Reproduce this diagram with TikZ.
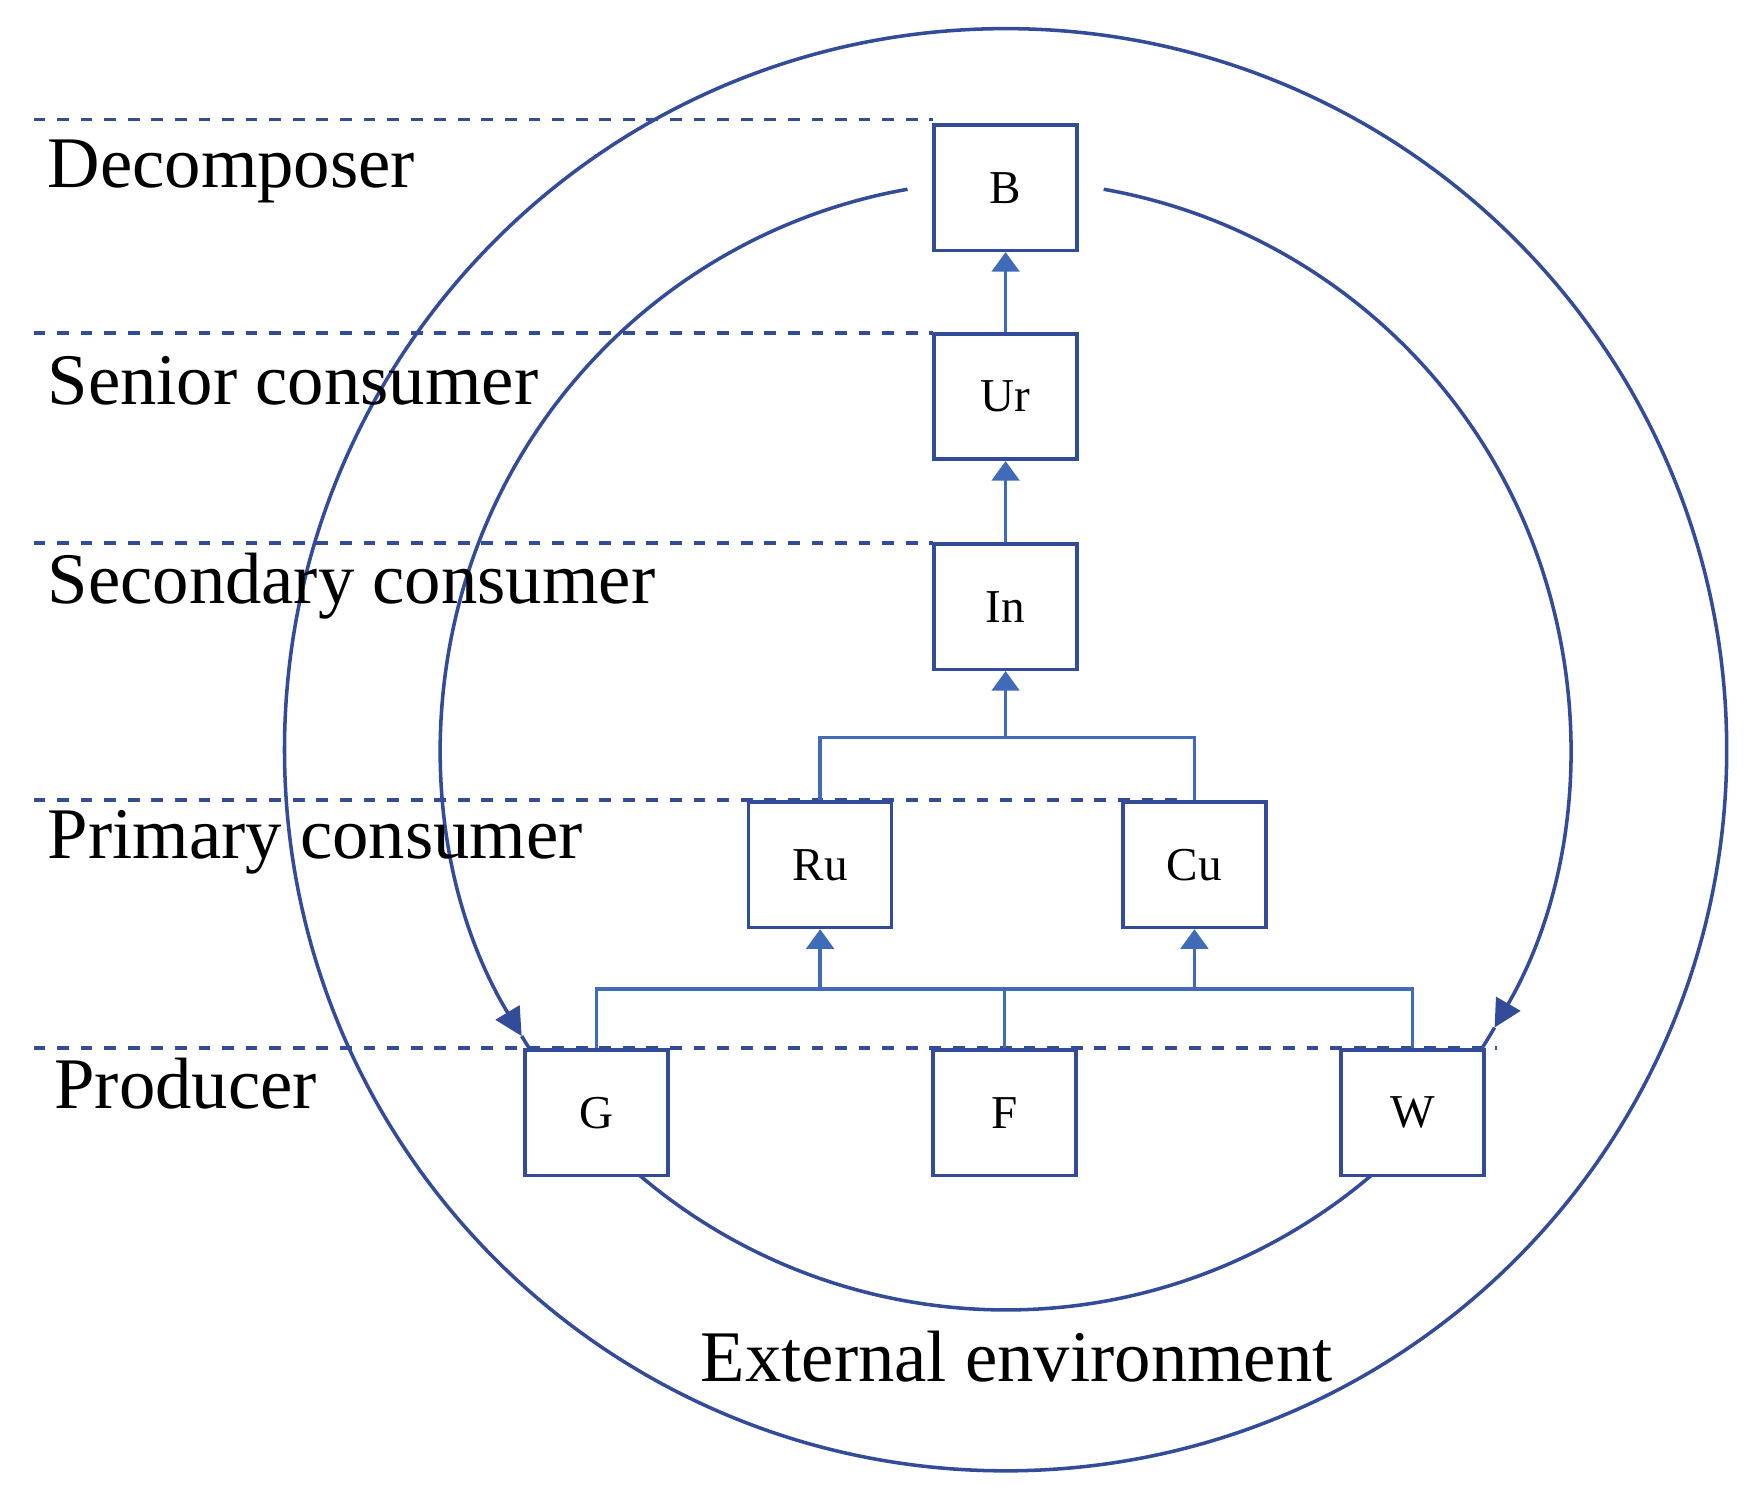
\documentclass[tikz,border=0pt]{standalone}
\usepackage{fontspec}
\setmainfont{Liberation Serif}
\usetikzlibrary{arrows.meta}
\definecolor{dialinecolor}{rgb}{0.20, 0.30, 0.60}
\definecolor{diaarrowcolor}{rgb}{0.25, 0.42, 0.72}
\tikzset{
  box/.style={draw=dialinecolor, fill=white, line width=0.9pt, minimum width=1.28cm, minimum height=1.12cm, inner sep=0pt, font=\fontsize{12}{14}\selectfont},
  level/.style={anchor=base west, inner sep=0pt, font=\fontsize{18.5}{22}\selectfont},
  sep/.style={draw=dialinecolor, dashed, line width=0.8pt},
  link/.style={draw=diaarrowcolor, line width=0.9pt},
  up/.style={link, -{Triangle[length=5pt,width=7pt]}},
}
\begin{document}
\begin{tikzpicture}[x=0.01cm, y=-0.01cm]
\useasboundingbox (0,0) rectangle (1568,1340);
% rings
\draw[dialinecolor, line width=0.9pt] (900,671) circle (6.45cm);
\draw[dialinecolor, line width=0.9pt, -{Triangle[length=7pt,width=7pt]}] (900,667) ++(100:5.05cm) arc (100:211:5.05cm);
\draw[dialinecolor, line width=0.9pt, -{Triangle[length=7pt,width=7pt]}] (900,667) ++(80:5.05cm) arc (80:-30:5.05cm);
\draw[dialinecolor, line width=0.9pt] (900,667) ++(211:5.05cm) arc (211:330:5.05cm);
% trophic levels
\draw[sep] (30,107) -- (835,107);
\draw[sep] (30,298) -- (835,298);
\draw[sep] (30,486) -- (835,486);
\draw[sep] (30,716) -- (1060,716);
\draw[sep] (30,938) -- (1340,938);
\node[level] (decomposer) at (42,168) {Decomposer};
\node[level] (senior) at (42,362) {Senior consumer};
\node[level] (secondary) at (42,540) {Secondary consumer};
\node[level] (primary) at (42,768) {Primary consumer};
\node[level] (producer) at (48,992) {Producer};
% boxes
\node[box] (B) at (900,168) {B};
\node[box] (Ur) at (900,355) {Ur};
\node[box] (In) at (900,543) {In};
\node[box] (Ru) at (734,774) {Ru};
\node[box] (Cu) at (1069,774) {Cu};
\node[box] (G) at (534,996) {G};
\node[box] (F) at (899,996) {F};
\node[box] (W) at (1264,996) {W};
% links
\draw[up] (Ur.north) -- (B.south);
\draw[up] (In.north) -- (Ur.south);
\coordinate (mid) at (900,660);
\draw[link] (Ru.north) |- (mid) -| (Cu.north);
\draw[up] (mid) -- (In.south);
\coordinate (bus) at (899,885);
\draw[link] (G.north) |- (bus) -| (W.north);
\draw[link] (F.north) -- (bus);
\draw[up] (Ru.south |- bus) -- (Ru.south);
\draw[up] (Cu.south |- bus) -- (Cu.south);
\node[level, anchor=base] (env) at (910,1236) {External environment};
\end{tikzpicture}
\end{document}
